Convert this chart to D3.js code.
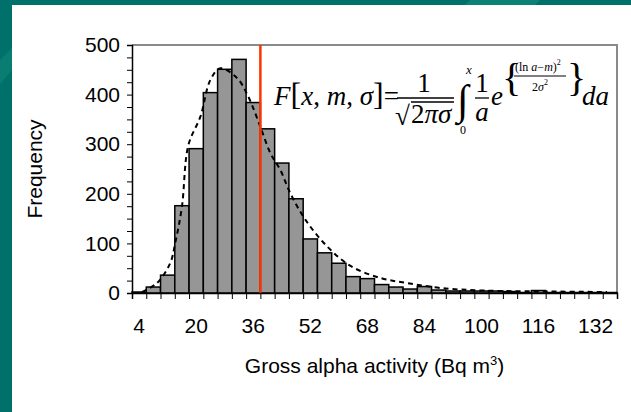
<!DOCTYPE html>
<html>
<head>
<meta charset="utf-8">
<script src="https://cdn.jsdelivr.net/npm/d3@7"></script>
<style>
  body { margin: 0; background: #fff; }
  svg { display: block; font-family: "Liberation Sans", Arial, sans-serif; }
  .math { font-family: "Liberation Serif", "Times New Roman", serif; }
</style>
</head>
<body>
<div id="chart"></div>
<script>
// bin centres (Bq m-3) and counts per bin
var bins = [4, 8, 12, 16, 20, 24, 28, 32, 36, 40, 44, 48, 52, 56, 60, 64, 68,
    72, 76, 80, 84, 88, 92, 96, 100, 104, 108, 112, 116, 120, 124, 128, 132, 136];
var counts = [2, 12, 36, 176, 291, 404, 451, 471, 384, 331, 262, 190, 109, 81, 60, 33, 29,
    17, 12, 8, 13, 6, 4, 4, 4, 4, 3, 1, 5, 1, 1, 1, 1, 1];
var xLabels = [4, 20, 36, 52, 68, 84, 100, 116, 132];
var yTicks = [0, 100, 200, 300, 400, 500];

// fitted log-normal curve
var fitX = [4.8, 9, 12.7, 14.1, 16, 17.8, 21.2, 24, 26.8, 31.5, 34.6, 38, 40.8, 43.6, 46.4,
    50.6, 56.7, 63.4, 71.8, 79.3, 88.5, 100.5, 119.3, 135.2];
var fitY = [2, 20, 60, 100, 174, 298, 356, 430, 453, 433, 396, 335, 282, 248, 201,
    148, 94, 54, 30, 20, 10, 5, 3, 2];

var redLine = 38;

var W = 631, H = 412;
var pL = 132, pR = 617, pT = 45, pB = 293;

var svg = d3.select('#chart').append('svg')
    .attr('width', W).attr('height', H);

// slide background
svg.append('rect').attr('width', W).attr('height', H).attr('fill', '#00706a');
svg.append('path').attr('d', 'M470,0L540,0L535,5L465,5Z').attr('fill', '#0b8275');
svg.append('path').attr('d', 'M0,60L12,48L12,70L0,84Z').attr('fill', '#0a7d73');
svg.append('rect').attr('x', 12).attr('y', 5).attr('width', W - 12).attr('height', H - 5)
    .attr('fill', '#fff');

var x = d3.scaleBand().domain(bins).range([pL, pR]).padding(0);
var xv = d3.scaleLinear().domain([2, 138]).range([pL, pR]);
var y = d3.scaleLinear().domain([0, 500]).range([pB, pT]);

// plot frame (top and right)
svg.append('path')
    .attr('d', 'M' + pL + ',' + pT + 'H' + pR + 'V' + pB)
    .attr('fill', 'none').attr('stroke', '#8a8a8a').attr('stroke-width', 2);

// bars
svg.append('g').selectAll('rect')
    .data(counts)
    .enter().append('rect')
    .attr('x', function (d, i) { return x(bins[i]); })
    .attr('y', function (d) { return y(d); })
    .attr('width', x.bandwidth())
    .attr('height', function (d) { return pB - y(d); })
    .attr('fill', '#969696')
    .attr('stroke', '#000')
    .attr('stroke-width', 1.5);

// fitted curve
var line = d3.line()
    .x(function (d) { return xv(d); })
    .y(function (d, i) { return y(fitY[i]); })
    .curve(d3.curveCatmullRom);
svg.append('path')
    .datum(fitX)
    .attr('d', line)
    .attr('fill', 'none')
    .attr('stroke', '#000')
    .attr('stroke-width', 2)
    .attr('stroke-dasharray', '5,4');

// red marker line
svg.append('line')
    .attr('x1', xv(redLine)).attr('x2', xv(redLine))
    .attr('y1', pT).attr('y2', pB)
    .attr('stroke', '#ff3300').attr('stroke-width', 2.5);

// y axis
var yAxis = svg.append('g')
    .attr('transform', 'translate(' + pL + ',0)')
    .call(d3.axisLeft(y).tickValues(d3.range(0, 501, 25)).tickSize(5)
        .tickFormat(function (d) { return yTicks.indexOf(d) >= 0 ? d : ''; }));
yAxis.select('.domain').attr('stroke', '#000').attr('stroke-width', 1.5);
yAxis.selectAll('.tick line').attr('stroke', '#000');
yAxis.selectAll('.tick text').attr('font-size', 21).attr('fill', '#000')
    .attr('font-family', '"Liberation Sans", Arial, sans-serif').attr('x', -12);

// x axis
var edges = bins.map(function (b) { return b - 2; }).concat([bins[bins.length - 1] + 2]);
var xAxis = svg.append('g')
    .attr('transform', 'translate(0,' + pB + ')')
    .call(d3.axisBottom(xv).tickValues(edges).tickSize(6).tickFormat(''));
xAxis.select('.domain').attr('stroke', '#000').attr('stroke-width', 1.5);
xAxis.selectAll('.tick line').attr('stroke', '#000');

svg.append('g').selectAll('text')
    .data(xLabels)
    .enter().append('text')
    .attr('x', function (d) { return x(d) + x.bandwidth() / 2; })
    .attr('y', 333)
    .attr('text-anchor', 'middle')
    .attr('font-size', 21)
    .text(function (d) { return d; });

// axis titles
var xt = svg.append('text')
    .attr('x', (pL + pR) / 2).attr('y', 373)
    .attr('text-anchor', 'middle').attr('font-size', 21);
xt.append('tspan').text('Gross alpha activity (Bq m');
xt.append('tspan').attr('font-size', 13).attr('dy', -8).text('3');
xt.append('tspan').attr('dy', 8).text(')');

svg.append('text')
    .attr('transform', 'translate(42,' + (pT + pB) / 2 + ') rotate(-90)')
    .attr('text-anchor', 'middle').attr('font-size', 21)
    .text('Frequency');

// formula
var m = svg.append('g').attr('class', 'math');
var f1 = m.append('text').attr('x', 274).attr('y', 105).attr('font-size', 27);
f1.append('tspan').attr('font-style', 'italic').text('F');
f1.append('tspan').attr('font-size', 32).text('[');
f1.append('tspan').attr('font-style', 'italic').text('x');
f1.append('tspan').text(', ');
f1.append('tspan').attr('font-style', 'italic').text('m');
f1.append('tspan').text(', ');
f1.append('tspan').attr('font-style', 'italic').text('σ');
f1.append('tspan').attr('font-size', 32).text(']');
f1.append('tspan').text('=');

m.append('text').attr('x', 424).attr('y', 92).attr('font-size', 27)
    .attr('text-anchor', 'middle').text('1');
m.append('line').attr('x1', 397).attr('x2', 454).attr('y1', 98).attr('y2', 98)
    .attr('stroke', '#000').attr('stroke-width', 1.3);
m.append('text').attr('x', 395).attr('y', 125).attr('font-size', 27).text('√');
m.append('line').attr('x1', 411).attr('x2', 454).attr('y1', 102).attr('y2', 102)
    .attr('stroke', '#000').attr('stroke-width', 1.3);
var den = m.append('text').attr('x', 411).attr('y', 123).attr('font-size', 27);
den.append('tspan').text('2');
den.append('tspan').attr('font-style', 'italic').text('πσ');

m.append('text').attr('x', 457).attr('y', 114).attr('font-size', 42).text('∫');
m.append('text').attr('x', 466).attr('y', 74).attr('font-size', 13)
    .attr('font-style', 'italic').text('x');
m.append('text').attr('x', 460).attr('y', 134).attr('font-size', 12).text('0');

m.append('text').attr('x', 482).attr('y', 92).attr('font-size', 27)
    .attr('text-anchor', 'middle').text('1');
m.append('line').attr('x1', 475).attr('x2', 489).attr('y1', 98).attr('y2', 98)
    .attr('stroke', '#000').attr('stroke-width', 1.3);
m.append('text').attr('x', 482).attr('y', 121).attr('font-size', 27)
    .attr('font-style', 'italic').attr('text-anchor', 'middle').text('a');
m.append('text').attr('x', 491).attr('y', 105).attr('font-size', 27)
    .attr('font-style', 'italic').text('e');

m.append('text').attr('x', 502).attr('y', 91).attr('font-size', 40).text('{');
var ex = m.append('text').attr('x', 515).attr('y', 71).attr('font-size', 12);
ex.append('tspan').text('(ln ');
ex.append('tspan').attr('font-style', 'italic').text('a');
ex.append('tspan').text('−');
ex.append('tspan').attr('font-style', 'italic').text('m');
ex.append('tspan').text(')');
ex.append('tspan').attr('font-size', 8).attr('dy', -6).text('2');
m.append('line').attr('x1', 514).attr('x2', 566).attr('y1', 76).attr('y2', 76)
    .attr('stroke', '#000').attr('stroke-width', 1);
var e2 = m.append('text').attr('x', 540).attr('y', 91).attr('font-size', 12)
    .attr('text-anchor', 'middle');
e2.append('tspan').text('2');
e2.append('tspan').attr('font-style', 'italic').text('σ');
e2.append('tspan').attr('font-size', 8).attr('dy', -6).text('2');
m.append('text').attr('x', 567).attr('y', 91).attr('font-size', 40).text('}');

m.append('text').attr('x', 582).attr('y', 105).attr('font-size', 27)
    .attr('font-style', 'italic').text('da');
</script>
</body>
</html>
